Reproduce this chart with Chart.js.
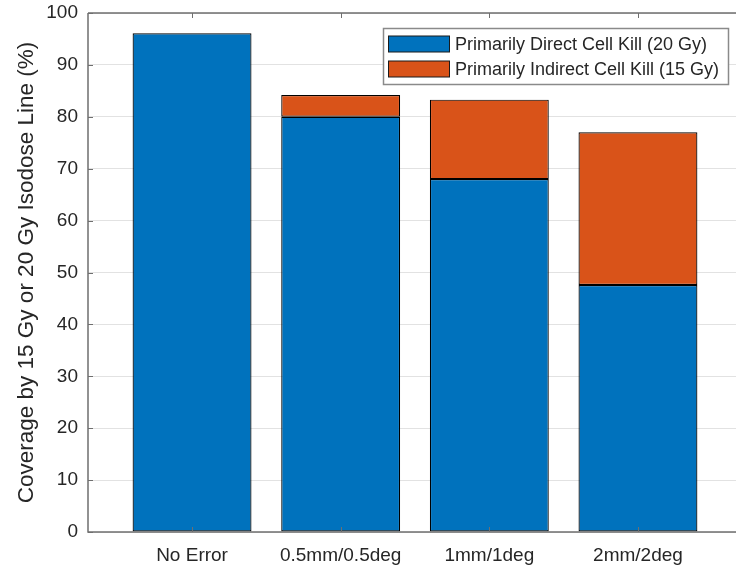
<!DOCTYPE html>
<html>
<head>
<meta charset="utf-8">
<script src="https://cdn.jsdelivr.net/npm/chart.js@4/dist/chart.umd.min.js"></script>
<style>
  html, body { margin: 0; padding: 0; background: #fff; overflow: hidden; }
  #wrap { width: 744px; height: 566px; }
</style>
</head>
<body>
<div id="wrap"><canvas id="cov" width="744" height="566"></canvas></div>
<script>
/* ---- data ---- */
const categories = ['No Error', '0.5mm/0.5deg', '1mm/1deg', '2mm/2deg'];
const directKill   = [96.1, 80.0, 68.0, 47.6];   // 20 Gy
const indirectKill = [0, 4.2, 15.3, 29.4];       // 15 Gy, stacked on top
const seriesLabels = ['Primarily Direct Cell Kill (20 Gy)', 'Primarily Indirect Cell Kill (15 Gy)'];
const yTicks = [0, 10, 20, 30, 40, 50, 60, 70, 80, 90, 100];

const BLUE = '#0072BD';
const ORANGE = '#D95319';
const AXIS = '#6f6f6f';
const TEXT = '#262626';
const FONT = "'Liberation Sans', Arial, sans-serif";

const toPoints = arr => arr.map((v, i) => ({ x: i + 1, y: v }));

/* axis box + inward tick marks, matlab style */
const axisBox = {
  id: 'axisBox',
  afterDatasetsDraw(chart) {
    const { ctx, chartArea: a, scales } = chart;
    ctx.save();
    ctx.strokeStyle = AXIS;
    ctx.lineWidth = 1.5;
    ctx.beginPath();
    ctx.moveTo(a.left, a.top); ctx.lineTo(a.right, a.top);
    ctx.moveTo(a.left, a.top); ctx.lineTo(a.left, a.bottom);
    ctx.lineTo(a.right, a.bottom);
    ctx.stroke();
    ctx.lineWidth = 1;
    ctx.beginPath();
    yTicks.forEach(t => {
      const y = Math.round(scales.y.getPixelForValue(t)) + 0.5;
      ctx.moveTo(a.left, y); ctx.lineTo(a.left + 5, y);
    });
    categories.forEach((c, i) => {
      const x = Math.round(scales.x.getPixelForValue(i + 1)) + 0.5;
      ctx.moveTo(x, a.bottom); ctx.lineTo(x, a.bottom - 5);
      ctx.moveTo(x, a.top); ctx.lineTo(x, a.top + 5);
    });
    ctx.stroke();
    ctx.restore();
  }
};

/* legend drawn inside the axes, top-right */
const innerLegend = {
  id: 'innerLegend',
  afterDraw(chart) {
    const { ctx } = chart;
    const box = { x: 383.5, y: 28.5, w: 345, h: 56 };
    ctx.save();
    ctx.fillStyle = '#fff';
    ctx.fillRect(box.x, box.y, box.w, box.h);
    ctx.strokeStyle = '#8a8a8a';
    ctx.lineWidth = 1.5;
    ctx.strokeRect(box.x, box.y, box.w, box.h);
    ctx.font = '18px ' + FONT;
    ctx.textBaseline = 'middle';
    chart.data.datasets.forEach((ds, i) => {
      const cy = 44 + i * 25;
      ctx.fillStyle = ds.backgroundColor;
      ctx.fillRect(388.5, cy - 8, 61, 16);
      ctx.strokeStyle = '#1a1a1a';
      ctx.lineWidth = 1;
      ctx.strokeRect(388.5, cy - 8, 61, 16);
      ctx.fillStyle = TEXT;
      ctx.fillText(ds.label, 455, cy + 1);
    });
    ctx.restore();
  }
};

new Chart(document.getElementById('cov'), {
  type: 'bar',
  data: {
    datasets: [
      { label: seriesLabels[0], data: toPoints(directKill), backgroundColor: BLUE },
      { label: seriesLabels[1], data: toPoints(indirectKill), backgroundColor: ORANGE },
    ].map(ds => ({
      ...ds,
      borderColor: '#000',
      borderWidth: 1.2,
      borderSkipped: false,
      barPercentage: 0.8,
      categoryPercentage: 1,
    })),
  },
  options: {
    responsive: false,
    animation: false,
    layout: { padding: { top: 13, right: 2, left: 0, bottom: 0 } },
    plugins: { legend: { display: false }, tooltip: { enabled: false } },
    scales: {
      x: {
        type: 'linear',
        stacked: true,
        offset: false,
        min: 0.3,
        max: 4.7,
        afterBuildTicks: s => { s.ticks = categories.map((c, i) => ({ value: i + 1 })); },
        afterFit: s => { s.height = 34; s.paddingLeft = 0; s.paddingRight = 0; },
        grid: { display: false, drawTicks: false, offset: false },
        border: { display: false },
        ticks: {
          padding: 12,
          color: TEXT,
          font: { family: FONT, size: 19 },
          callback: v => categories[v - 1],
        },
      },
      y: {
        stacked: true,
        min: 0,
        max: 100,
        afterBuildTicks: s => { s.ticks = yTicks.map(v => ({ value: v })); },
        afterFit: s => { s.width = 88; s.paddingTop = 0; s.paddingBottom = 0; },
        grid: { color: '#e2e2e2', lineWidth: 1, drawTicks: false },
        border: { display: false },
        ticks: {
          padding: 10,
          color: TEXT,
          font: { family: FONT, size: 19 },
        },
        title: {
          display: true,
          text: 'Coverage by 15 Gy or 20 Gy Isodose Line (%)',
          color: TEXT,
          font: { family: FONT, size: 22.5 },
          padding: { top: 13, bottom: 0 },
        },
      },
    },
  },
  plugins: [axisBox, innerLegend],
});
</script>
</body>
</html>
